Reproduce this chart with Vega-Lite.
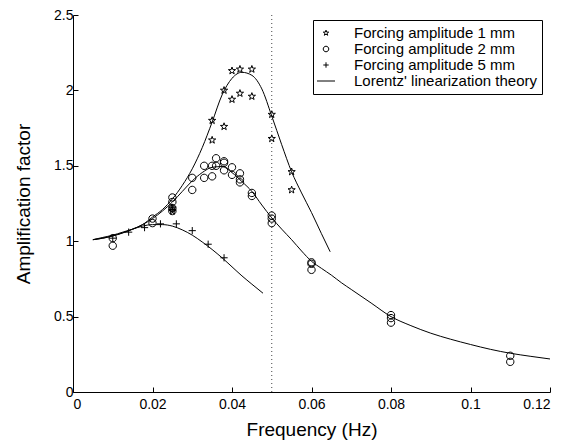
{
  "$schema": "https://vega.github.io/schema/vega-lite/v6.json",
  "width": 477,
  "height": 377,
  "autosize": {"type": "none"},
  "padding": {"left": 73, "top": 15, "right": 17, "bottom": 51},
  "background": "white",
  "config": {
    "view": {"stroke": null},
    "font": "Liberation Sans",
    "axis": {
      "grid": false,
      "domainColor": "black",
      "domainWidth": 1,
      "tickColor": "black",
      "tickSize": -5,
      "tickWidth": 1,
      "labelColor": "black",
      "labelFont": "Liberation Sans",
      "labelFontSize": 14,
      "titleColor": "black",
      "titleFont": "Liberation Sans",
      "titleFontSize": 19,
      "titleFontWeight": "normal"
    }
  },
  "datasets": {
    "pts": [
      {"f": 0.025, "a": 1.20, "series": "Forcing amplitude 1 mm"},
      {"f": 0.025, "a": 1.22, "series": "Forcing amplitude 1 mm"},
      {"f": 0.035, "a": 1.80, "series": "Forcing amplitude 1 mm"},
      {"f": 0.035, "a": 1.67, "series": "Forcing amplitude 1 mm"},
      {"f": 0.038, "a": 2.00, "series": "Forcing amplitude 1 mm"},
      {"f": 0.038, "a": 1.76, "series": "Forcing amplitude 1 mm"},
      {"f": 0.040, "a": 2.13, "series": "Forcing amplitude 1 mm"},
      {"f": 0.040, "a": 1.94, "series": "Forcing amplitude 1 mm"},
      {"f": 0.042, "a": 2.14, "series": "Forcing amplitude 1 mm"},
      {"f": 0.042, "a": 1.98, "series": "Forcing amplitude 1 mm"},
      {"f": 0.045, "a": 2.14, "series": "Forcing amplitude 1 mm"},
      {"f": 0.045, "a": 1.96, "series": "Forcing amplitude 1 mm"},
      {"f": 0.050, "a": 1.84, "series": "Forcing amplitude 1 mm"},
      {"f": 0.050, "a": 1.68, "series": "Forcing amplitude 1 mm"},
      {"f": 0.055, "a": 1.46, "series": "Forcing amplitude 1 mm"},
      {"f": 0.055, "a": 1.34, "series": "Forcing amplitude 1 mm"},
      {"f": 0.010, "a": 1.02, "series": "Forcing amplitude 2 mm"},
      {"f": 0.010, "a": 0.97, "series": "Forcing amplitude 2 mm"},
      {"f": 0.020, "a": 1.15, "series": "Forcing amplitude 2 mm"},
      {"f": 0.020, "a": 1.12, "series": "Forcing amplitude 2 mm"},
      {"f": 0.025, "a": 1.29, "series": "Forcing amplitude 2 mm"},
      {"f": 0.025, "a": 1.26, "series": "Forcing amplitude 2 mm"},
      {"f": 0.025, "a": 1.22, "series": "Forcing amplitude 2 mm"},
      {"f": 0.025, "a": 1.20, "series": "Forcing amplitude 2 mm"},
      {"f": 0.030, "a": 1.42, "series": "Forcing amplitude 2 mm"},
      {"f": 0.030, "a": 1.34, "series": "Forcing amplitude 2 mm"},
      {"f": 0.033, "a": 1.50, "series": "Forcing amplitude 2 mm"},
      {"f": 0.033, "a": 1.42, "series": "Forcing amplitude 2 mm"},
      {"f": 0.035, "a": 1.50, "series": "Forcing amplitude 2 mm"},
      {"f": 0.035, "a": 1.43, "series": "Forcing amplitude 2 mm"},
      {"f": 0.036, "a": 1.55, "series": "Forcing amplitude 2 mm"},
      {"f": 0.036, "a": 1.50, "series": "Forcing amplitude 2 mm"},
      {"f": 0.038, "a": 1.53, "series": "Forcing amplitude 2 mm"},
      {"f": 0.038, "a": 1.52, "series": "Forcing amplitude 2 mm"},
      {"f": 0.038, "a": 1.47, "series": "Forcing amplitude 2 mm"},
      {"f": 0.040, "a": 1.49, "series": "Forcing amplitude 2 mm"},
      {"f": 0.040, "a": 1.44, "series": "Forcing amplitude 2 mm"},
      {"f": 0.042, "a": 1.45, "series": "Forcing amplitude 2 mm"},
      {"f": 0.042, "a": 1.41, "series": "Forcing amplitude 2 mm"},
      {"f": 0.042, "a": 1.39, "series": "Forcing amplitude 2 mm"},
      {"f": 0.045, "a": 1.32, "series": "Forcing amplitude 2 mm"},
      {"f": 0.045, "a": 1.30, "series": "Forcing amplitude 2 mm"},
      {"f": 0.050, "a": 1.17, "series": "Forcing amplitude 2 mm"},
      {"f": 0.050, "a": 1.15, "series": "Forcing amplitude 2 mm"},
      {"f": 0.050, "a": 1.12, "series": "Forcing amplitude 2 mm"},
      {"f": 0.060, "a": 0.86, "series": "Forcing amplitude 2 mm"},
      {"f": 0.060, "a": 0.85, "series": "Forcing amplitude 2 mm"},
      {"f": 0.060, "a": 0.81, "series": "Forcing amplitude 2 mm"},
      {"f": 0.080, "a": 0.51, "series": "Forcing amplitude 2 mm"},
      {"f": 0.080, "a": 0.49, "series": "Forcing amplitude 2 mm"},
      {"f": 0.080, "a": 0.46, "series": "Forcing amplitude 2 mm"},
      {"f": 0.110, "a": 0.24, "series": "Forcing amplitude 2 mm"},
      {"f": 0.110, "a": 0.20, "series": "Forcing amplitude 2 mm"},
      {"f": 0.010, "a": 1.02, "series": "Forcing amplitude 5 mm"},
      {"f": 0.014, "a": 1.06, "series": "Forcing amplitude 5 mm"},
      {"f": 0.018, "a": 1.09, "series": "Forcing amplitude 5 mm"},
      {"f": 0.022, "a": 1.115, "series": "Forcing amplitude 5 mm"},
      {"f": 0.025, "a": 1.21, "series": "Forcing amplitude 5 mm"},
      {"f": 0.026, "a": 1.115, "series": "Forcing amplitude 5 mm"},
      {"f": 0.030, "a": 1.07, "series": "Forcing amplitude 5 mm"},
      {"f": 0.034, "a": 0.98, "series": "Forcing amplitude 5 mm"},
      {"f": 0.038, "a": 0.89, "series": "Forcing amplitude 5 mm"}
    ],
    "curves": [
      {"f": 0.005, "a": 1.01, "curve": "1 mm"},
      {"f": 0.0075, "a": 1.02, "curve": "1 mm"},
      {"f": 0.01, "a": 1.035, "curve": "1 mm"},
      {"f": 0.0125, "a": 1.055, "curve": "1 mm"},
      {"f": 0.015, "a": 1.08, "curve": "1 mm"},
      {"f": 0.0175, "a": 1.11, "curve": "1 mm"},
      {"f": 0.02, "a": 1.16, "curve": "1 mm"},
      {"f": 0.0225, "a": 1.21, "curve": "1 mm"},
      {"f": 0.025, "a": 1.28, "curve": "1 mm"},
      {"f": 0.0275, "a": 1.37, "curve": "1 mm"},
      {"f": 0.03, "a": 1.48, "curve": "1 mm"},
      {"f": 0.0325, "a": 1.62, "curve": "1 mm"},
      {"f": 0.035, "a": 1.79, "curve": "1 mm"},
      {"f": 0.0375, "a": 1.97, "curve": "1 mm"},
      {"f": 0.04, "a": 2.08, "curve": "1 mm"},
      {"f": 0.0425, "a": 2.12, "curve": "1 mm"},
      {"f": 0.045, "a": 2.10, "curve": "1 mm"},
      {"f": 0.0475, "a": 2.01, "curve": "1 mm"},
      {"f": 0.05, "a": 1.83, "curve": "1 mm"},
      {"f": 0.0525, "a": 1.64, "curve": "1 mm"},
      {"f": 0.055, "a": 1.46, "curve": "1 mm"},
      {"f": 0.0575, "a": 1.32, "curve": "1 mm"},
      {"f": 0.06, "a": 1.19, "curve": "1 mm"},
      {"f": 0.0625, "a": 1.05, "curve": "1 mm"},
      {"f": 0.0647, "a": 0.93, "curve": "1 mm"},
      {"f": 0.005, "a": 1.01, "curve": "2 mm"},
      {"f": 0.0075, "a": 1.02, "curve": "2 mm"},
      {"f": 0.01, "a": 1.035, "curve": "2 mm"},
      {"f": 0.0125, "a": 1.055, "curve": "2 mm"},
      {"f": 0.015, "a": 1.08, "curve": "2 mm"},
      {"f": 0.0175, "a": 1.11, "curve": "2 mm"},
      {"f": 0.02, "a": 1.15, "curve": "2 mm"},
      {"f": 0.0225, "a": 1.2, "curve": "2 mm"},
      {"f": 0.025, "a": 1.26, "curve": "2 mm"},
      {"f": 0.0275, "a": 1.33, "curve": "2 mm"},
      {"f": 0.03, "a": 1.40, "curve": "2 mm"},
      {"f": 0.0325, "a": 1.455, "curve": "2 mm"},
      {"f": 0.035, "a": 1.49, "curve": "2 mm"},
      {"f": 0.0375, "a": 1.495, "curve": "2 mm"},
      {"f": 0.04, "a": 1.455, "curve": "2 mm"},
      {"f": 0.0425, "a": 1.395, "curve": "2 mm"},
      {"f": 0.045, "a": 1.33, "curve": "2 mm"},
      {"f": 0.0475, "a": 1.24, "curve": "2 mm"},
      {"f": 0.05, "a": 1.155, "curve": "2 mm"},
      {"f": 0.0525, "a": 1.08, "curve": "2 mm"},
      {"f": 0.055, "a": 1.01, "curve": "2 mm"},
      {"f": 0.0575, "a": 0.935, "curve": "2 mm"},
      {"f": 0.06, "a": 0.867, "curve": "2 mm"},
      {"f": 0.0625, "a": 0.82, "curve": "2 mm"},
      {"f": 0.065, "a": 0.775, "curve": "2 mm"},
      {"f": 0.0675, "a": 0.725, "curve": "2 mm"},
      {"f": 0.07, "a": 0.68, "curve": "2 mm"},
      {"f": 0.075, "a": 0.59, "curve": "2 mm"},
      {"f": 0.08, "a": 0.50, "curve": "2 mm"},
      {"f": 0.085, "a": 0.44, "curve": "2 mm"},
      {"f": 0.09, "a": 0.39, "curve": "2 mm"},
      {"f": 0.095, "a": 0.35, "curve": "2 mm"},
      {"f": 0.1, "a": 0.315, "curve": "2 mm"},
      {"f": 0.105, "a": 0.283, "curve": "2 mm"},
      {"f": 0.11, "a": 0.257, "curve": "2 mm"},
      {"f": 0.115, "a": 0.237, "curve": "2 mm"},
      {"f": 0.12, "a": 0.219, "curve": "2 mm"},
      {"f": 0.005, "a": 1.01, "curve": "5 mm"},
      {"f": 0.0075, "a": 1.025, "curve": "5 mm"},
      {"f": 0.01, "a": 1.04, "curve": "5 mm"},
      {"f": 0.0125, "a": 1.06, "curve": "5 mm"},
      {"f": 0.015, "a": 1.08, "curve": "5 mm"},
      {"f": 0.0175, "a": 1.10, "curve": "5 mm"},
      {"f": 0.02, "a": 1.11, "curve": "5 mm"},
      {"f": 0.0225, "a": 1.11, "curve": "5 mm"},
      {"f": 0.025, "a": 1.10, "curve": "5 mm"},
      {"f": 0.0275, "a": 1.075, "curve": "5 mm"},
      {"f": 0.03, "a": 1.04, "curve": "5 mm"},
      {"f": 0.0325, "a": 0.995, "curve": "5 mm"},
      {"f": 0.035, "a": 0.945, "curve": "5 mm"},
      {"f": 0.0375, "a": 0.89, "curve": "5 mm"},
      {"f": 0.04, "a": 0.83, "curve": "5 mm"},
      {"f": 0.0425, "a": 0.77, "curve": "5 mm"},
      {"f": 0.045, "a": 0.715, "curve": "5 mm"},
      {"f": 0.0478, "a": 0.655, "curve": "5 mm"}
    ]
  },
  "layer": [
    {
      "data": {"values": [{"f": 0.05}]},
      "mark": {"type": "rule", "color": "#444", "strokeWidth": 1, "strokeDash": [1, 3]},
      "encoding": {
        "x": {"field": "f", "type": "quantitative", "scale": {"domain": [0, 0.12], "nice": false}}
      }
    },
    {
      "data": {"name": "curves"},
      "mark": {"type": "line", "color": "black", "strokeWidth": 1, "interpolate": "monotone"},
      "encoding": {
        "x": {"field": "f", "type": "quantitative", "scale": {"domain": [0, 0.12], "nice": false},
              "axis": {"title": "Frequency (Hz)", "values": [0, 0.02, 0.04, 0.06, 0.08, 0.1, 0.12], "format": "~g", "labelPadding": 10, "titlePadding": 9}},
        "y": {"field": "a", "type": "quantitative", "scale": {"domain": [0, 2.5], "nice": false},
              "axis": {"title": "Amplification factor", "values": [0, 0.5, 1, 1.5, 2, 2.5], "format": "~g", "labelPadding": 5, "titlePadding": 20}},
        "detail": {"field": "curve", "type": "nominal"}
      }
    },
    {
      "data": {"name": "pts"},
      "mark": {"type": "point", "filled": false, "stroke": "black", "strokeWidth": 1, "size": 400, "opacity": 1},
      "encoding": {
        "x": {"field": "f", "type": "quantitative"},
        "y": {"field": "a", "type": "quantitative"},
        "shape": {
          "field": "series",
          "type": "nominal",
          "scale": {
            "domain": ["Forcing amplitude 1 mm", "Forcing amplitude 2 mm", "Forcing amplitude 5 mm", "Lorentz' linearization theory"],
            "range": [
              "M0,-0.38L0.088,-0.121L0.361,-0.117L0.143,0.046L0.223,0.307L0,0.15L-0.223,0.307L-0.143,0.046L-0.361,-0.117L-0.088,-0.121Z",
              "M-0.37,0A0.37,0.37 0 1,0 0.37,0A0.37,0.37 0 1,0 -0.37,0Z",
              "M-0.36,0L0.36,0M0,-0.36L0,0.36",
              "M-1.2,0L1.2,0"
            ]
          },
          "legend": {
            "title": null,
            "orient": "none",
            "legendX": 240,
            "legendY": 5,
            "strokeColor": "black",
            "fillColor": "white",
            "padding": 5,
            "labelFont": "Liberation Sans",
            "labelFontSize": 15,
            "labelColor": "black",
            "labelLimit": 400,
            "labelOffset": 20,
            "symbolSize": 225,
            "symbolStrokeWidth": 1,
            "symbolStrokeColor": "black",
            "symbolFillColor": "transparent",
            "rowPadding": 0
          }
        }
      }
    }
  ]
}
